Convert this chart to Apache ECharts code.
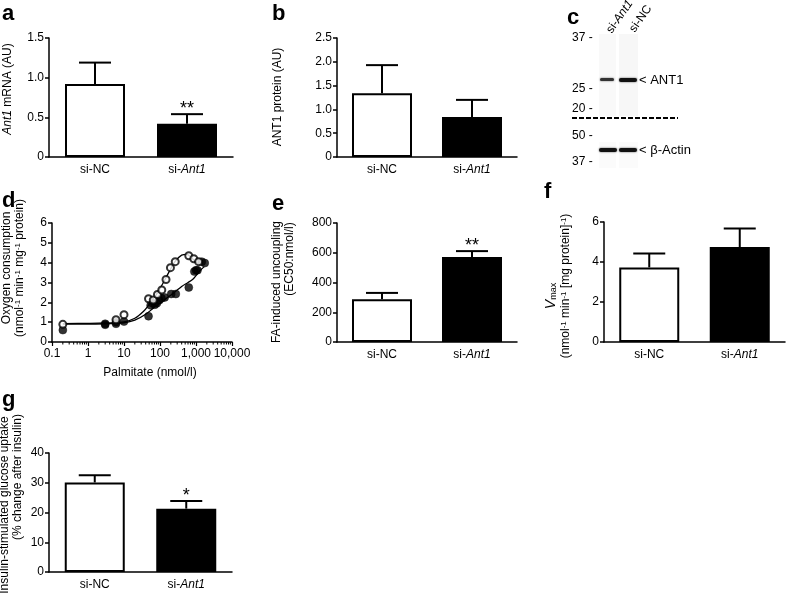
<!DOCTYPE html>
<html>
<head>
<meta charset="utf-8">
<script src="https://cdn.jsdelivr.net/npm/echarts@6/dist/echarts.min.js"></script>
<style>
html,body{margin:0;padding:0;background:#fff;}
#chart{width:787px;height:604px;}
</style>
</head>
<body>
<div id="chart"></div>
<script>
// ---------- data ----------
const categories = ['si-NC', 'si-Ant1'];
const barColors = ['#ffffff', '#000000'];

const mrnaMean = [0.92, 0.42];
const mrnaErr = [0.27, 0.12];
const mrnaSig = ['', '**'];

const proteinMean = [1.34, 0.84];
const proteinErr = [0.59, 0.36];
const proteinSig = ['', ''];

const ec50Mean = [288, 571];
const ec50Err = [42, 40];
const ec50Sig = ['', '**'];

const vmaxMean = [3.73, 4.75];
const vmaxErr = [0.69, 0.93];
const vmaxSig = ['', ''];

const glucoseMean = [30.1, 21.3];
const glucoseErr = [2.4, 2.6];
const glucoseSig = ['', '*'];

// panel d: palmitate (nmol/l) vs oxygen consumption
const palmNC = [[0.2,0.89],[6,1.12],[10,1.38],[48,2.18],[65,2.12],[85,2.4],[112,2.62],[147,3.15],[195,3.75],[265,4.05],[630,4.35],[870,4.2],[1180,4.05]];
const palmAnt1 = [[0.2,0.6],[3,0.87],[3,0.92],[6,0.92],[6,1.0],[10,1.03],[48,1.3],[55,1.85],[62,1.95],[72,1.88],[82,1.96],[95,2.1],[110,2.2],[135,2.25],[205,2.42],[275,2.42],[630,2.75],[900,3.55],[1000,3.62],[1100,3.62],[1450,4.05],[1750,3.98]];
const fitNC = [[0.2,0.93],[1,0.94],[3,0.96],[10,1.02],[20,1.2],[35,1.55],[50,1.9],[80,2.4],[120,2.95],[180,3.55],[260,4.05],[400,4.38],[550,4.42],[750,4.25],[1000,4.02],[1300,3.9]];
const fitAnt1 = [[0.2,0.9],[1,0.9],[3,0.92],[10,0.97],[20,1.1],[40,1.4],[70,1.75],[100,1.95],[150,2.2],[250,2.5],[400,2.8],[600,3.0],[800,3.15],[1000,3.35],[1300,3.6],[1700,3.8]];
const palmTickLabels = {0.1:'0.1', 1:'1', 10:'10', 100:'100', 1000:'1,000', 10000:'10,000'};

// axis ranges [min, max, interval]
const axisA = [0, 1.5, 0.5];
const axisB = [0, 2.5, 0.5];
const axisDy = [0, 6, 1];
const axisDx = [0.1, 10000];
const axisE = [0, 800, 200];
const axisF = [0, 6, 2];
const axisG = [0, 40, 10];

// western blot (panel c)
const blotLanes = ['si-Ant1', 'si-NC'];
const markersTop = [['37', 38], ['25', 89], ['20', 109]];
const markersBottom = [['50', 136], ['37', 162]];

// ---------- helpers ----------
const FF = '"Liberation Sans", Arial, Helvetica, sans-serif';
const black = '#000';

function catLabel(v) {
  if (v.indexOf('si-') === 0 && v !== 'si-NC') return '{n|si-}{i|' + v.slice(3) + '}';
  return '{n|' + v + '}';
}
const richCat = {
  n: {fontFamily: FF, fontSize: 12, color: black},
  i: {fontFamily: FF, fontSize: 12, color: black, fontStyle: 'italic'}
};

const grids = [
  {left: 49, top: 38, width: 184, height: 119},   // a
  {left: 337, top: 38, width: 180, height: 119},  // b
  {left: 52, top: 223, width: 180, height: 119},  // d
  {left: 337, top: 223, width: 180, height: 119}, // e
  {left: 604, top: 222, width: 181, height: 120}, // f
  {left: 49, top: 453, width: 183, height: 119}   // g
];

const xAxes = [];
const yAxes = [];
const series = [];

function fmtNum(dec) {
  return function (v) { return v === 0 ? '0' : v.toFixed(dec); };
}

function addBarPanel(gi, mean, err, sig, range, dec) {
  xAxes.push({
    type: 'category', gridIndex: gi, data: categories,
    axisLine: {lineStyle: {color: black, width: 1.5}},
    axisTick: {show: false},
    axisLabel: {formatter: catLabel, rich: richCat, margin: 7}
  });
  yAxes.push({
    type: 'value', gridIndex: gi, min: range[0], max: range[1], interval: range[2],
    axisLine: {show: true, lineStyle: {color: black, width: 1.5}},
    axisTick: {show: true, length: 4, lineStyle: {color: black, width: 1.5}},
    splitLine: {show: false},
    axisLabel: {color: black, fontFamily: FF, fontSize: 12, margin: 5, formatter: fmtNum(dec)}
  });
  const ai = xAxes.length - 1;
  series.push({
    type: 'bar', xAxisIndex: ai, yAxisIndex: ai, barWidth: 60, silent: true,
    data: mean.map(function (m, i) {
      return {value: m, itemStyle: {color: barColors[i], borderColor: black, borderWidth: 2}};
    }),
    z: 2
  });
  series.push({
    type: 'custom', xAxisIndex: ai, yAxisIndex: ai, silent: true, z: 1,
    data: mean.map(function (m, i) { return [i, m, err[i]]; }),
    renderItem: function (params, api) {
      const i = api.value(0), m = api.value(1), e = api.value(2);
      const base = api.coord([i, m]);
      const top = api.coord([i, m + e]);
      const s = sig[params.dataIndex];
      const children = [
        {type: 'line', shape: {x1: base[0], y1: base[1], x2: top[0], y2: top[1]}, style: {stroke: black, lineWidth: 2}},
        {type: 'line', shape: {x1: top[0] - 16, y1: top[1], x2: top[0] + 16, y2: top[1]}, style: {stroke: black, lineWidth: 2}}
      ];
      if (s) {
        children.push({type: 'text', style: {text: s, x: top[0], y: top[1] + 4, textAlign: 'center', textVerticalAlign: 'bottom', font: '18px ' + FF, fill: black}});
      }
      return {type: 'group', children: children};
    }
  });
}

addBarPanel(0, mrnaMean, mrnaErr, mrnaSig, axisA, 1);
addBarPanel(1, proteinMean, proteinErr, proteinSig, axisB, 1);

// panel d
xAxes.push({
  type: 'log', logBase: 10, gridIndex: 2, min: axisDx[0], max: axisDx[1],
  axisLine: {onZero: false, lineStyle: {color: black, width: 1.5}},
  axisTick: {show: true, length: 4, lineStyle: {color: black, width: 1.2}},
  splitLine: {show: false},
  axisLabel: {color: black, fontFamily: FF, fontSize: 12, margin: 6,
    formatter: function (v) { const k = Math.round(Math.log10(v)); return palmTickLabels[Math.pow(10, k)] || ''; }}
});
yAxes.push({
  type: 'value', gridIndex: 2, min: axisDy[0], max: axisDy[1], interval: axisDy[2],
  axisLine: {show: true, lineStyle: {color: black, width: 1.5}},
  axisTick: {show: true, length: 4, lineStyle: {color: black, width: 1.5}},
  splitLine: {show: false},
  axisLabel: {color: black, fontFamily: FF, fontSize: 12, margin: 5}
});
const dIdx = xAxes.length - 1;
const minorTicks = [];
[0.1, 1, 10, 100, 1000].forEach(function (d) { for (let k = 2; k <= 9; k++) minorTicks.push([k * d, 0]); });
series.push({
  type: 'custom', xAxisIndex: dIdx, yAxisIndex: dIdx, silent: true, data: minorTicks,
  renderItem: function (params, api) {
    const p = api.coord([api.value(0), 0]);
    return {type: 'line', shape: {x1: p[0], y1: p[1], x2: p[0], y2: p[1] + 2.5}, style: {stroke: black, lineWidth: 1}};
  }
});
series.push({type: 'line', xAxisIndex: dIdx, yAxisIndex: dIdx, data: fitNC, smooth: 0.35, showSymbol: false, silent: true,
  lineStyle: {color: black, width: 1.3}, z: 3});
series.push({type: 'line', xAxisIndex: dIdx, yAxisIndex: dIdx, data: fitAnt1, smooth: 0.35, showSymbol: false, silent: true,
  lineStyle: {color: black, width: 1.3}, z: 3});
series.push({type: 'scatter', xAxisIndex: dIdx, yAxisIndex: dIdx, data: palmAnt1, symbol: 'circle', symbolSize: 8, silent: true,
  itemStyle: {color: black, borderColor: black, borderWidth: 0.5}, z: 4});
series.push({type: 'scatter', xAxisIndex: dIdx, yAxisIndex: dIdx, data: palmNC, symbol: 'circle', symbolSize: 7, silent: true,
  itemStyle: {color: '#fff', borderColor: black, borderWidth: 2}, z: 5});

addBarPanel(3, ec50Mean, ec50Err, ec50Sig, axisE, 0);
addBarPanel(4, vmaxMean, vmaxErr, vmaxSig, axisF, 0);
addBarPanel(5, glucoseMean, glucoseErr, glucoseSig, axisG, 0);

// ---------- texts ----------
const baseRich = {
  n: {fontFamily: FF, fontSize: 12, color: black},
  i: {fontFamily: FF, fontSize: 12, color: black, fontStyle: 'italic'},
  s: {fontFamily: FF, fontSize: 8, color: black, verticalAlign: 'top'},
  sub: {fontFamily: FF, fontSize: 9, color: black, verticalAlign: 'bottom'},
  bi: {fontFamily: FF, fontSize: 14, color: black, fontStyle: 'italic'}
};
function vtext(txt, x, y) {
  return {type: 'text', x: x, y: y, rotation: Math.PI / 2,
    style: {text: txt, rich: baseRich, textAlign: 'center', textVerticalAlign: 'middle', fill: black}};
}
function letter(t, x, y) {
  return {type: 'text', x: x, y: y, style: {text: t, font: 'bold 22px ' + FF, fill: black, textAlign: 'left', textVerticalAlign: 'top'}};
}
function plain(t, x, y, align, size) {
  return {type: 'text', x: x, y: y, style: {text: t, font: (size || 12) + 'px ' + FF, fill: black, textAlign: align || 'left', textVerticalAlign: 'middle'}};
}

const graphics = [
  letter('a', 2, 3), letter('b', 272, 3), letter('c', 567, 7),
  letter('d', 2, 190), letter('e', 272, 193), letter('f', 544, 181), letter('g', 2, 389),
  vtext('{i|Ant1}{n| mRNA (AU)}', 8, 89),
  vtext('{n|ANT1 protein (AU)}', 278, 97),
  vtext('{n|Oxygen consumption}', 7, 268),
  vtext('{n|(nmol}{s|-1}{n| min}{s|-1}{n| mg}{s|-1}{n| protein)}', 20, 268),
  vtext('{n|FA-induced uncoupling}', 277, 282),
  vtext('{n|(EC50:nmol/l)}', 290, 259),
  vtext('{bi|V}{sub|max}', 551, 296),
  vtext('{n|(nmol}{s|-1}{n| min}{s|-1}{n| [mg protein]}{s|-1}{n|)}', 566, 286),
  vtext('{n|Insulin-stimulated glucose uptake}', 5, 505),
  vtext('{n|(% change after insulin)}', 18, 477),
  plain('Palmitate (nmol/l)', 150, 373, 'center', 12)
];

// panel c: western blot
graphics.push({type: 'rect', shape: {x: 599, y: 34, width: 17, height: 82}, style: {fill: 'rgba(0,0,0,0.025)'}});
graphics.push({type: 'rect', shape: {x: 619, y: 34, width: 19, height: 82}, style: {fill: 'rgba(0,0,0,0.03)'}});
graphics.push({type: 'rect', shape: {x: 599, y: 142, width: 17, height: 26}, style: {fill: 'rgba(0,0,0,0.015)'}});
graphics.push({type: 'rect', shape: {x: 619, y: 142, width: 19, height: 26}, style: {fill: 'rgba(0,0,0,0.015)'}});
const laneStart = [[609, 32], [632, 31]];
blotLanes.forEach(function (l, i) {
  const t = l === 'si-NC' ? '{n|si-NC}' : '{n|si-}{i|' + l.slice(3) + '}';
  graphics.push({type: 'text', x: laneStart[i][0], y: laneStart[i][1], rotation: 55 * Math.PI / 180,
    style: {text: t, rich: baseRich, textAlign: 'left', textVerticalAlign: 'middle', fill: black}});
});
markersTop.concat(markersBottom).forEach(function (m) {
  graphics.push(plain(m[0] + ' -', 572, m[1], 'left', 12));
});
// bands
graphics.push({type: 'rect', shape: {x: 600, y: 78, width: 14, height: 3, r: 1.5}, style: {fill: '#333', shadowBlur: 2, shadowColor: 'rgba(0,0,0,0.6)'}});
graphics.push({type: 'rect', shape: {x: 619, y: 78, width: 18, height: 4, r: 2}, style: {fill: '#111', shadowBlur: 2, shadowColor: 'rgba(0,0,0,0.7)'}});
graphics.push({type: 'rect', shape: {x: 599, y: 148, width: 18, height: 4, r: 2}, style: {fill: '#111', shadowBlur: 2, shadowColor: 'rgba(0,0,0,0.7)'}});
graphics.push({type: 'rect', shape: {x: 619, y: 148, width: 18, height: 4, r: 2}, style: {fill: '#111', shadowBlur: 2, shadowColor: 'rgba(0,0,0,0.7)'}});
graphics.push({type: 'line', shape: {x1: 572, y1: 118, x2: 678, y2: 118}, style: {stroke: black, lineWidth: 2, lineDash: [5, 2]}});
graphics.push(plain('< ANT1', 639, 80, 'left', 13));
graphics.push(plain('< \u03b2-Actin', 639, 150, 'left', 13));

const chart = echarts.init(document.getElementById('chart'), null, {renderer: 'canvas'});
chart.setOption({
  backgroundColor: '#fff',
  animation: false,
  grid: grids,
  xAxis: xAxes,
  yAxis: yAxes,
  series: series,
  graphic: {elements: graphics}
});
</script>
</body>
</html>
